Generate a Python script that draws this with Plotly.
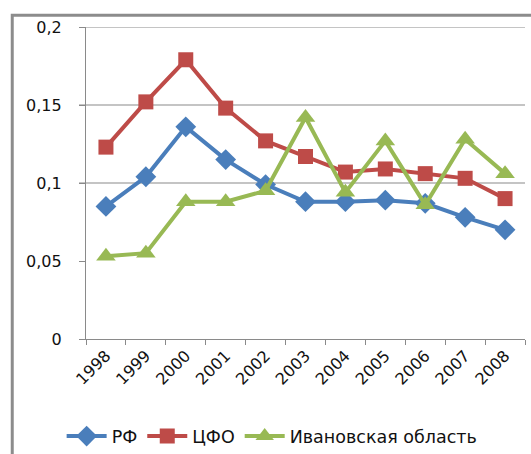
import plotly.graph_objects as go

years = ["1998", "1999", "2000", "2001", "2002", "2003", "2004", "2005", "2006", "2007", "2008"]
rf = [0.085, 0.104, 0.136, 0.115, 0.099, 0.088, 0.088, 0.089, 0.087, 0.078, 0.070]
cfo = [0.123, 0.152, 0.179, 0.148, 0.127, 0.117, 0.107, 0.109, 0.106, 0.103, 0.090]
ivan = [0.053, 0.055, 0.088, 0.088, 0.095, 0.142, 0.094, 0.127, 0.086, 0.128, 0.106]
y_ticks = [0, 0.05, 0.1, 0.15, 0.2]
y_tick_text = ["0", "0,05", "0,1", "0,15", "0,2"]
grid_vals = [0.1, 0.15, 0.2]

FONT = "DejaVu Sans"

fig = go.Figure()
fig.add_trace(go.Scatter(x=years, y=rf, name="РФ", mode="lines+markers",
                         line=dict(color="#4A7EBB", width=4),
                         marker=dict(symbol="diamond", size=16, color="#4A7EBB")))
fig.add_trace(go.Scatter(x=years, y=cfo, name="ЦФО", mode="lines+markers",
                         line=dict(color="#BE4B48", width=4),
                         marker=dict(symbol="square", size=15, color="#BE4B48")))
fig.add_trace(go.Scatter(x=years, y=ivan, name="Ивановская область", mode="lines+markers",
                         line=dict(color="#98B954", width=4),
                         marker=dict(symbol="triangle-up", size=17, color="#98B954")))

shapes = []
for g in grid_vals:
    shapes.append(dict(type="line", xref="paper", yref="y", x0=-0.016, x1=1, y0=g, y1=g,
                       line=dict(color="#8a8a8a", width=1.2), layer="below"))
shapes.append(dict(type="rect", xref="paper", yref="paper", x0=-0.168, x1=1.2, y0=-0.6, y1=1.038,
                   line=dict(color="#8c8c8c", width=3), layer="below"))

fig.update_layout(
    width=531, height=454,
    margin=dict(l=86, r=6, t=27, b=115, autoexpand=False),
    paper_bgcolor="white", plot_bgcolor="white",
    font=dict(family=FONT, size=16, color="#111"),
    shapes=shapes,
    showlegend=True,
    legend=dict(orientation="h", x=0.424, xanchor="center", y=-0.254, yanchor="top",
                font=dict(family=FONT, size=17.5, color="#111"), itemwidth=40),
    xaxis=dict(type="category", showgrid=False, showline=True, linecolor="#8a8a8a", linewidth=1.2,
               ticks="outside", tickson="boundaries", ticklen=5, tickcolor="#8a8a8a",
               tickangle=-45, tickfont=dict(family=FONT, size=16, color="#111"),
               range=[-0.5, 10.5], automargin=False),
    yaxis=dict(range=[0, 0.2], tickvals=y_ticks, ticktext=y_tick_text, showgrid=False,
               zeroline=False, showline=True, linecolor="#8a8a8a", linewidth=1.2,
               ticks="outside", ticklen=6, tickcolor="#8a8a8a", automargin=False,
               tickfont=dict(family=FONT, size=16, color="#111"), ticklabelstandoff=14),
)

fig.write_html("out.html", config={"displayModeBar": False},
               post_script="document.body.style.margin='0';document.body.style.overflow='hidden';")
